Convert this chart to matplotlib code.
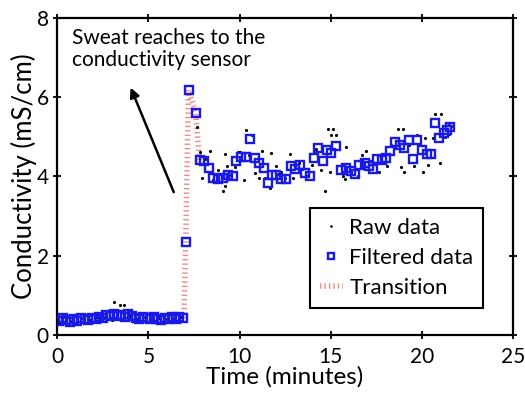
import numpy as np
import matplotlib.pyplot as plt

plt.rcParams['font.family'] = ['Lato', 'DejaVu Sans']

# Filtered data (minutes, mS/cm)
filt_t = [0.1, 0.3, 0.5, 0.7, 0.9, 1.1, 1.3, 1.5, 1.7, 1.9, 2.1, 2.3, 2.5, 2.7, 2.9,
          3.1, 3.3, 3.5, 3.7, 3.9, 4.1, 4.3, 4.5, 4.7, 4.9, 5.1, 5.3, 5.5, 5.7, 5.9,
          6.1, 6.3, 6.5, 6.7, 6.9,
          7.05, 7.25, 7.6,
          7.81, 8.05, 8.31, 8.54, 8.82, 9.09, 9.36, 9.64, 9.79, 10.06, 10.33, 10.6,
          10.83, 11.06, 11.34, 11.56, 11.8, 12.02, 12.25, 12.57, 12.8, 13.06, 13.32,
          13.57, 13.84, 14.06, 14.3, 14.57, 14.79, 15.03, 15.31, 15.58, 15.86, 16.13,
          16.31, 16.58, 16.86, 17.13, 17.31, 17.53, 17.8, 18.05, 18.27, 18.54, 18.78,
          19.05, 19.29, 19.5, 19.73, 20.0, 20.27, 20.51, 20.75, 20.97, 21.2, 21.39, 21.56]
filt_y = [0.35, 0.42, 0.38, 0.33, 0.40, 0.36, 0.42, 0.40, 0.37, 0.42, 0.40, 0.45, 0.42, 0.50, 0.47,
          0.52, 0.48, 0.50, 0.45, 0.52, 0.48, 0.43, 0.40, 0.45, 0.42, 0.40, 0.44, 0.40, 0.38, 0.42,
          0.40, 0.44, 0.40, 0.45, 0.42,
          2.35, 6.18, 5.6,
          4.42, 4.38, 4.21, 3.96, 3.94, 3.96, 4.04, 4.0, 4.39, 4.5, 4.5, 4.95,
          4.46, 4.35, 4.21, 3.83, 4.04, 4.04, 3.93, 3.94, 4.27, 4.18, 4.28,
          4.08, 4.0, 4.46, 4.71, 4.38, 4.67, 4.59, 4.76, 4.17, 4.21, 4.15,
          4.07, 4.29, 4.35, 4.27, 4.18, 4.44, 4.42, 4.46, 4.65, 4.86, 4.8,
          4.71, 4.91, 4.44, 4.91, 4.67, 4.57, 4.57, 5.35, 4.97, 5.11, 5.18, 5.26]

# Raw data
raw_t = [0.1, 0.4, 0.8, 1.05, 1.4, 1.8, 2.2, 2.6, 3.1, 3.0, 3.46, 3.66, 4.0, 4.4, 4.8,
         5.2, 5.6, 6.0, 6.4, 6.8,
         7.68, 7.81, 7.94, 8.10, 8.36, 8.55, 8.82, 9.09, 9.18, 9.22, 9.33, 9.51, 9.73,
         9.91, 10.05, 10.22, 10.37, 10.50, 10.68, 10.87, 11.06, 11.23, 11.38, 11.65,
         11.74, 12.02, 12.10, 12.25, 12.50, 12.75, 12.93, 13.29, 13.45, 13.70, 13.95,
         14.20, 14.48, 14.67, 14.85, 14.94, 15.03, 15.15, 15.27, 15.67, 15.77, 15.86,
         16.10, 16.49, 16.70, 16.95, 17.20, 17.64, 17.90, 18.08, 18.30, 18.68, 18.87,
         18.96, 19.05, 19.30, 19.56, 19.75, 20.09, 20.15, 20.33, 20.60, 20.75, 21.00,
         21.06, 21.30, 21.52, 21.52, 21.70]
raw_y = [0.30, 0.45, 0.35, 0.30, 0.42, 0.38, 0.44, 0.45, 0.84, 0.38, 0.76, 0.76, 0.50, 0.40, 0.44,
         0.38, 0.42, 0.40, 0.43, 0.46,
         5.26, 4.63, 3.96, 4.45, 4.65, 3.90, 4.17, 3.64, 4.57, 3.75, 4.27, 4.04, 4.25,
         4.63, 4.62, 3.91, 5.18, 4.55, 5.05, 4.08, 3.96, 4.65, 3.96, 3.70,
         4.59, 4.27, 4.05, 4.12, 3.95, 4.57, 3.96, 4.35, 4.20, 4.00, 4.30,
         4.70, 4.17, 3.64, 5.19, 4.12, 5.05, 5.19, 5.05, 4.00, 3.93, 4.74,
         4.10, 4.00, 4.55, 4.65, 4.40, 4.12, 4.55, 4.27, 4.80, 5.19, 4.25,
         5.19, 4.12, 4.80, 4.27, 5.05, 4.10, 4.97, 4.29, 4.97, 5.57, 4.35,
         5.57, 5.00, 5.36, 5.07, 5.28]

# Transition segment
trans_t = [6.95, 7.05, 7.2, 7.6, 7.8]
trans_y = [0.42, 2.35, 6.18, 5.6, 4.42]

fig = plt.figure(figsize=(5.25, 3.93), dpi=100)
ax = fig.add_axes([0.109, 0.148, 0.868, 0.806])

ax.plot(raw_t, raw_y, '.', color='black', markersize=2.5, label='Raw data', zorder=2)
ax.plot(filt_t, filt_y, 's', mfc='none', mec='#1a1ae6', mew=1.7, markersize=5.5,
        label='Filtered data', zorder=3)
ax.plot(trans_t, trans_y, color='#f08a8a', lw=4, linestyle=(0, (0.25, 0.55)),
        label='Transition', zorder=1)

ax.annotate('', xy=(3.97, 6.31), xytext=(6.45, 3.54),
            arrowprops=dict(arrowstyle='-|>', color='black', lw=1.8, mutation_scale=14))
ax.text(0.8, 7.74, 'Sweat reaches to the\nconductivity sensor', fontsize=15,
        va='top', ha='left', linespacing=1.1)

ax.set_xlim(0, 25)
ax.set_ylim(0, 8)
ax.set_xticks([0, 5, 10, 15, 20, 25])
ax.set_yticks([0, 2, 4, 6, 8])
ax.tick_params(direction='inout', top=True, right=True, labelsize=15, width=1.3, length=6, pad=3)
ax.tick_params(axis='x', pad=6)
for s in ax.spines.values():
    s.set_linewidth(1.6)
ax.set_xlabel('Time (minutes)', fontsize=17.5, labelpad=-1)
ax.set_ylabel('Conductivity (mS/cm)', fontsize=18.5, labelpad=0)

leg = ax.legend(loc='lower right', bbox_to_anchor=(0.935, 0.085), fontsize=16, fancybox=False,
                edgecolor='black', handlelength=1.0, handletextpad=0.3, borderpad=0.45,
                labelspacing=0.45, borderaxespad=0, framealpha=1, markerscale=0.7)
leg.get_frame().set_linewidth(1.5)

fig.savefig('out.png', dpi=100)
